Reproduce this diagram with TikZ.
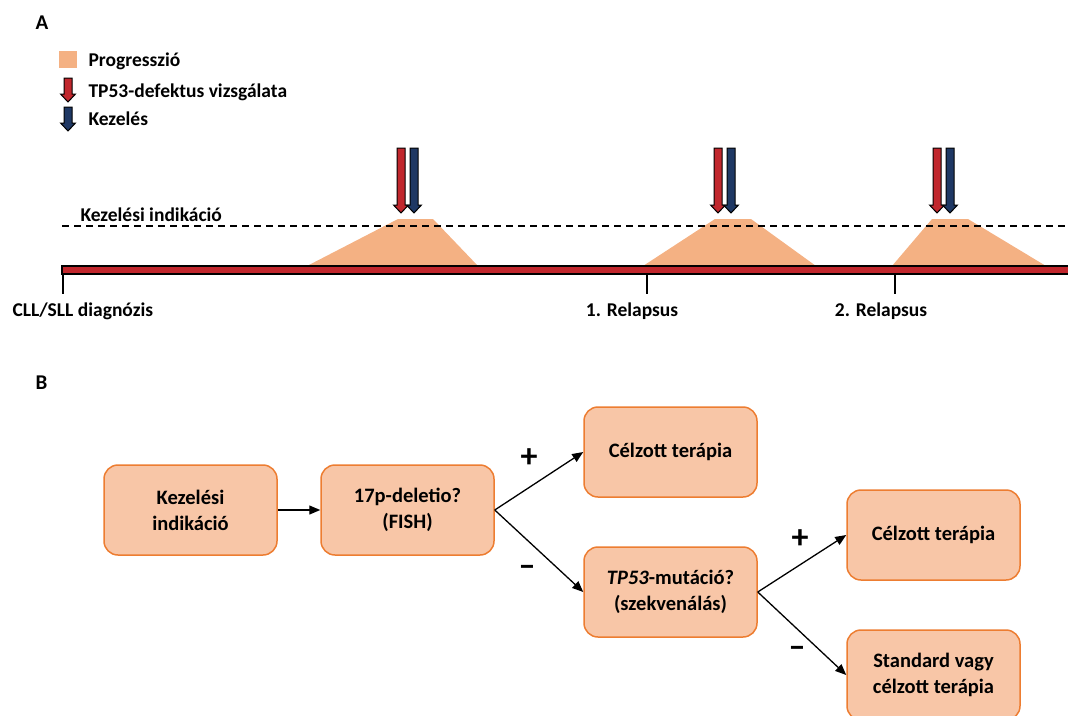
\documentclass[tikz,border=0pt]{standalone}
\usepackage{fontspec}
\setmainfont{Carlito}
\usetikzlibrary{arrows.meta}
\definecolor{progfill}{HTML}{F4B183}
\definecolor{boxfill}{HTML}{F8C6A7}
\definecolor{boxline}{HTML}{ED7D31}
\definecolor{testred}{HTML}{C1272D}
\definecolor{treatblue}{HTML}{1F3864}
% block arrow pointing down: x, top, tip, colour
\newcommand{\downblock}[4]{%
  \filldraw[fill=#4,draw=black,line width=1pt]
    (#1-4,#2) -- (#1+4,#2) -- (#1+4,#3-8) -- (#1+7.5,#3-8) -- (#1,#3)
    -- (#1-7.5,#3-8) -- (#1-4,#3-8) -- cycle;}

\begin{document}
\begin{tikzpicture}[x=1pt,y=-1pt,
  lbl/.style={font=\fontsize{19.5}{22}\selectfont\bfseries},
  flowbox/.style={draw=boxline,fill=boxfill,line width=1.5pt,rounded corners=14pt,
    minimum width=173pt,minimum height=90pt,align=center,
    font=\fontsize{20.5}{26}\selectfont\bfseries},
  link/.style={-{Triangle[length=11pt,width=9pt]},line width=1.3pt},
  sign/.style={font=\fontsize{34}{34}\selectfont\bfseries}]
\useasboundingbox (0,0) rectangle (1068,715);

% A: legend
\node[lbl,anchor=base west,font=\fontsize{21}{22}\selectfont\bfseries] (labA) at (32,29) {A};
\fill[progfill] (59,51) rectangle (77,68);
\node[lbl,anchor=base west] (legprog) at (85,66) {Progresszió};
\downblock{68}{78}{102}{testred}
\node[lbl,anchor=base west] (legtest) at (85,97) {TP53-defektus vizsgálata};
\downblock{68}{107}{131}{treatblue}
\node[lbl,anchor=base west] (legtreat) at (85,125) {Kezelés};

% A: progression phases
\fill[progfill] (307,266) -- (398,219) -- (433,219) -- (478,266) -- cycle;
\fill[progfill] (643,266) -- (715,219) -- (751,219) -- (816,266) -- cycle;
\fill[progfill] (892,266) -- (932,219) -- (968,219) -- (1046,266) -- cycle;

% A: treatment threshold
\draw[dashed,dash pattern=on 7pt off 5pt,line width=1.5pt] (62,226) -- (1068,226);
\node[lbl,anchor=base west] (indic) at (77,221) {Kezelési indikáció};

% A: timeline
\foreach \tx in {63,647,895}
  \draw[line width=2pt] (\tx,270) -- (\tx,294);
\filldraw[fill=testred,draw=black,line width=1.2pt] (62,266) rectangle (1072,274);
\node[lbl,anchor=base west] (diag) at (9,316) {CLL/SLL diagnózis};
\node[lbl,anchor=base] (rel1) at (632,316) {1. Relapsus};
\node[lbl,anchor=base] (rel2) at (881,316) {2. Relapsus};

% A: tests and treatments
\foreach \ax in {401,718,937} {
  \downblock{\ax}{148}{213}{testred}
  \downblock{\ax+13}{148}{213}{treatblue}
}

% B: decision tree
\node[lbl,anchor=base west,font=\fontsize{21}{22}\selectfont\bfseries] (labB) at (32,389) {B};
\node[flowbox] (indik) at (190.5,510) {Kezelési\\indikáció};
\node[flowbox] (del) at (407.5,510) {17p-deletio?\\(FISH)};
\node[flowbox] (cel1) at (670.5,452) {Célzott terápia};
\node[flowbox] (mut) at (670.5,592) {\textit{TP53}-mutáció?\\(szekvenálás)};
\node[flowbox] (cel2) at (933.5,535) {Célzott terápia};
\node[flowbox] (std) at (933.5,675) {Standard vagy\\célzott terápia};

\draw[link] (indik) -- (del);
\draw[link] (del.east) -- (cel1.west);
\draw[link] (del.east) -- (mut.west);
\draw[link] (mut.east) -- (cel2.west);
\draw[link] (mut.east) -- (std.west);

\node[sign] (p1) at (529,458) {+};
\node[sign] (m1) at (527,571) {–};
\node[sign] (p2) at (800,539) {+};
\node[sign] (m2) at (797,652) {–};
\end{tikzpicture}
\end{document}
